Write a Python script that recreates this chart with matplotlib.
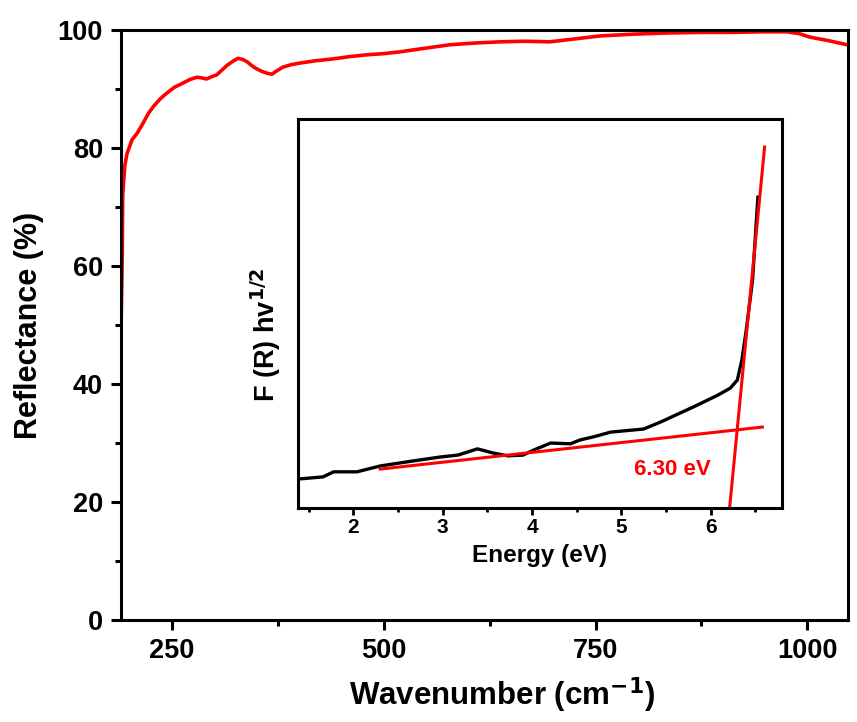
import numpy as np
import matplotlib.pyplot as plt
from matplotlib.ticker import MultipleLocator, NullLocator

plt.rcParams['font.family'] = ['Liberation Sans', 'DejaVu Sans']
plt.rcParams['font.weight'] = 'bold'

# main reflectance spectrum
wavenumber = [190, 191.5, 192, 194.5, 197, 203, 209, 216, 222, 228, 236, 244, 253, 263,
              271, 279.5, 285, 291, 297, 303, 309, 315, 322, 328, 334, 339, 344, 348,
              356, 362, 368, 374, 381, 390, 401, 420, 440, 460, 480, 500, 519, 548,
              578, 608, 637, 667, 696, 726, 755, 795, 835, 875, 913, 945, 976, 990,
              1003, 1025, 1047]
reflectance = [49, 62, 72, 77, 79, 81.4, 82.5, 84.2, 85.8, 87, 88.3, 89.3, 90.3, 91,
               91.6, 92, 91.9, 91.7, 92.1, 92.4, 93.2, 94, 94.7, 95.2, 95.0, 94.6, 94.0, 93.6,
               93.0, 92.7, 92.5, 93.1, 93.7, 94.1, 94.4, 94.8, 95.1, 95.5, 95.8, 96.0, 96.3, 96.9,
               97.5, 97.8, 98.0, 98.1, 98.0, 98.5, 99.0, 99.3, 99.5, 99.6, 99.6, 99.7, 99.7, 99.4,
               98.8, 98.2, 97.5]

# inset: Kubelka-Munk plot
energy = [1.38, 1.41, 1.66, 1.78, 2.04, 2.30, 2.67, 2.97, 3.17, 3.39, 3.57, 3.73, 3.90,
          4.02, 4.21, 4.43, 4.54, 4.69, 4.88, 5.25, 5.44, 5.81, 6.08, 6.22, 6.30, 6.35,
          6.40, 6.47, 6.53]
fr_hv = [0.075, 0.075, 0.080, 0.093, 0.093, 0.108, 0.121, 0.131, 0.136, 0.152, 0.141,
         0.134, 0.136, 0.149, 0.167, 0.165, 0.175, 0.183, 0.195, 0.203, 0.221, 0.260,
         0.290, 0.308, 0.329, 0.380, 0.458, 0.586, 0.799]

# fitted lines
steep_e = [6.213, 6.605]
steep_v = [0.0, 0.928]
base_e = [2.30, 6.58]
base_v = [0.100, 0.208]

fig = plt.figure(figsize=(8.57, 7.22), dpi=100)
ax = fig.add_axes([0.1412, 0.1413, 0.8483, 0.8171])
ax.plot(wavenumber, reflectance, color='#ff0000', lw=2.6)
ax.set_xlim(190, 1048)
ax.set_ylim(0, 100)
ax.xaxis.set_major_locator(MultipleLocator(250))
ax.xaxis.set_minor_locator(MultipleLocator(125))
ax.yaxis.set_major_locator(MultipleLocator(20))
ax.yaxis.set_minor_locator(MultipleLocator(10))
ax.tick_params(which='major', length=7, width=2.2, labelsize=19.5, pad=6)
ax.tick_params(which='minor', length=4, width=2.2)
for s in ax.spines.values():
    s.set_linewidth(2.2)
ax.set_xlabel('Wavenumber (cm$^{\\mathbf{-1}}$)', fontsize=22.5, fontweight='bold')
ax.xaxis.set_label_coords(0.524, -0.094)
ax.set_ylabel('Reflectance (%)', fontsize=22, fontweight='bold', labelpad=10)
for lab in ax.get_xticklabels() + ax.get_yticklabels():
    lab.set_fontweight('bold')

ins = fig.add_axes([0.3477, 0.2964, 0.5648, 0.5388])
ins.plot(energy, fr_hv, color='black', lw=2.4)
ins.plot(steep_e, steep_v, color='#ff0000', lw=2.2)
ins.plot(base_e, base_v, color='#ff0000', lw=2.2)
ins.text(5.57, 0.098, '6.30 eV', color='#ff0000', fontsize=16, fontweight='bold',
         ha='center', va='center')
ins.set_xlim(1.38, 6.8)
ins.set_ylim(0, 1)
ins.xaxis.set_major_locator(MultipleLocator(1))
ins.xaxis.set_minor_locator(MultipleLocator(0.5))
ins.yaxis.set_major_locator(NullLocator())
ins.tick_params(which='major', length=5, width=2, labelsize=15, pad=2)
ins.tick_params(which='minor', length=3, width=2)
for s in ins.spines.values():
    s.set_linewidth(2.2)
ins.set_xlabel('Energy (eV)', fontsize=17.5, fontweight='bold', labelpad=5)
ins.set_ylabel('F (R) hv$^{\\mathbf{1/2}}$', fontsize=19.5, fontweight='bold')
ins.yaxis.set_label_coords(-0.03, 0.445)
for lab in ins.get_xticklabels():
    lab.set_fontweight('bold')

fig.savefig('out.png', dpi=100)
